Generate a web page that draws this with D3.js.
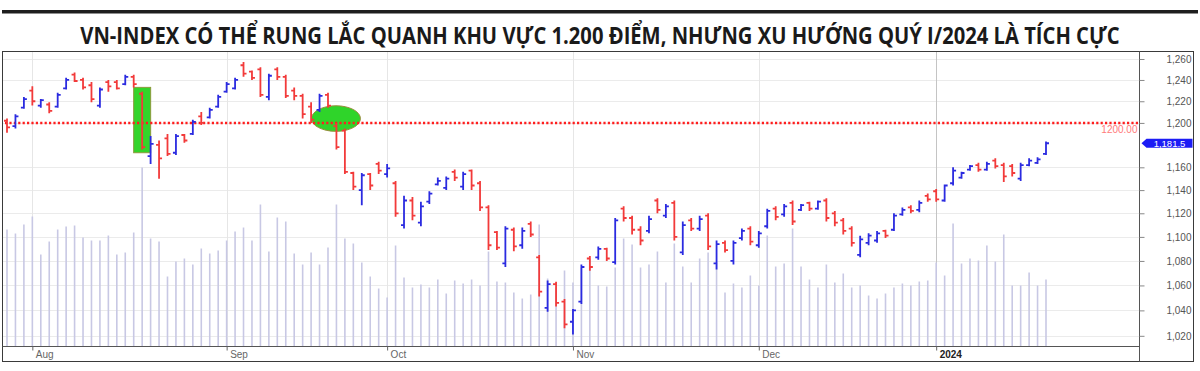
<!DOCTYPE html>
<html>
<head>
<meta charset="utf-8">
<script src="https://cdn.jsdelivr.net/npm/d3@7"></script>
<style>
	body { margin: 0; background: #fff; }
</style>
</head>
<body>
<div id="chart"></div>
<script>
// ------------------------------------------------------
// Size of the page
const width = 1200
const height = 371

// ------------------------------------------------------
// Data: VN-Index daily bars, Jul 27 2023 - Jan 19 2024

const dates = [
	'2023-07-27','2023-07-28','2023-07-31',
	'2023-08-01','2023-08-02','2023-08-03','2023-08-04','2023-08-07','2023-08-08','2023-08-09','2023-08-10',
	'2023-08-11','2023-08-14','2023-08-15','2023-08-16','2023-08-17','2023-08-18','2023-08-21','2023-08-22',
	'2023-08-23','2023-08-24','2023-08-25','2023-08-28','2023-08-29','2023-08-30','2023-08-31',
	'2023-09-05','2023-09-06','2023-09-07','2023-09-08','2023-09-11','2023-09-12','2023-09-13','2023-09-14',
	'2023-09-15','2023-09-18','2023-09-19','2023-09-20','2023-09-21','2023-09-22','2023-09-25','2023-09-26',
	'2023-09-27','2023-09-28','2023-09-29',
	'2023-10-02','2023-10-03','2023-10-04','2023-10-05','2023-10-06','2023-10-09','2023-10-10','2023-10-11',
	'2023-10-12','2023-10-13','2023-10-16','2023-10-17','2023-10-18','2023-10-19','2023-10-20','2023-10-23',
	'2023-10-24','2023-10-25','2023-10-26','2023-10-27','2023-10-30','2023-10-31',
	'2023-11-01','2023-11-02','2023-11-03','2023-11-06','2023-11-07','2023-11-08','2023-11-09','2023-11-10',
	'2023-11-13','2023-11-14','2023-11-15','2023-11-16','2023-11-17','2023-11-20','2023-11-21','2023-11-22',
	'2023-11-23','2023-11-24','2023-11-27','2023-11-28','2023-11-29','2023-11-30',
	'2023-12-01','2023-12-04','2023-12-05','2023-12-06','2023-12-07','2023-12-08','2023-12-11','2023-12-12',
	'2023-12-13','2023-12-14','2023-12-15','2023-12-18','2023-12-19','2023-12-20','2023-12-21','2023-12-22',
	'2023-12-25','2023-12-26','2023-12-27','2023-12-28','2023-12-29',
	'2024-01-02','2024-01-03','2024-01-04','2024-01-05','2024-01-08','2024-01-09','2024-01-10','2024-01-11',
	'2024-01-12','2024-01-15','2024-01-16','2024-01-17','2024-01-18','2024-01-19'
]

const openVals = [
	1202,1197,1214,1230,1216,1217,1215,1232,1245,1240,
	1235,1216,1238,1238,1236,1243,1227,1170,1180,1186,
	1173,1189,1190,1206,1205,1215,1229,1232,1254,1248,
	1250,1224,1250,1243,1230,1225,1215,1212,1226,1197,
	1193,1155,1140,1154,1163,1154,1146,1110,1131,1112,
	1130,1145,1142,1156,1143,1157,1146,1125,1104,1078,
	1106,1093,1111,1083,1042,1061,1047,1031,1047,1082,
	1083,1090,1079,1124,1116,1106,1105,1131,1118,1129,
	1087,1114,1107,1118,1078,1095,1080,1099,1107,1093,
	1109,1124,1119,1129,1123,1129,1124,1131,1120,1114,
	1107,1085,1095,1097,1105,1106,1119,1125,1123,1135,
	1139,1131,1146,1151,1158,1162,1158,1166,1162,1161,
	1150,1162,1164,1172
]

const highVals = [
	1204,1208,1224,1234,1222,1219,1228,1242,1247,1242,
	1238,1233,1240,1240,1245,1245,1229,1188,1184,1190,
	1190,1190,1203,1210,1214,1226,1238,1242,1257,1249,
	1252,1246,1252,1245,1233,1227,1219,1227,1228,1200,
	1195,1156,1155,1155,1165,1163,1148,1135,1134,1130,
	1139,1151,1152,1158,1156,1158,1148,1127,1105,1109,
	1108,1108,1113,1085,1064,1063,1049,1041,1077,1084,
	1092,1091,1116,1126,1118,1109,1118,1133,1128,1131,
	1113,1116,1118,1120,1097,1097,1097,1107,1109,1105,
	1124,1126,1128,1131,1128,1130,1131,1133,1122,1116,
	1109,1101,1103,1105,1106,1120,1125,1127,1131,1137,
	1141,1145,1160,1156,1162,1164,1165,1168,1164,1163,
	1164,1168,1169,1183
]

const lowVals = [
	1191,1195,1213,1216,1214,1209,1214,1231,1238,1231,
	1219,1214,1229,1231,1235,1233,1176,1163,1150,1170,
	1171,1182,1189,1198,1204,1214,1228,1231,1243,1240,
	1224,1221,1240,1223,1221,1204,1200,1210,1214,1176,
	1154,1140,1127,1140,1154,1151,1117,1107,1114,1109,
	1128,1144,1140,1148,1140,1140,1122,1089,1089,1075,
	1088,1090,1100,1051,1039,1043,1026,1021,1045,1072,
	1081,1080,1077,1113,1102,1093,1103,1120,1116,1097,
	1085,1105,1105,1089,1073,1087,1077,1097,1093,1091,
	1107,1114,1117,1110,1122,1122,1123,1113,1109,1102,
	1092,1083,1093,1095,1099,1105,1118,1120,1121,1130,
	1130,1130,1144,1150,1157,1156,1157,1159,1147,1152,
	1148,1161,1163,1171
]

const closeVals = [
	1196,1206,1222,1220,1221,1211,1226,1240,1239,1233,
	1222,1231,1234,1232,1243,1236,1178,1181,1168,1172,
	1188,1184,1201,1200,1212,1224,1236,1240,1246,1242,
	1226,1244,1243,1225,1225,1208,1203,1225,1216,1178,
	1156,1143,1153,1144,1157,1159,1120,1131,1118,1126,
	1137,1148,1150,1151,1154,1144,1125,1093,1091,1107,
	1092,1105,1102,1055,1061,1046,1029,1040,1075,1075,
	1090,1082,1114,1116,1106,1097,1115,1123,1126,1100,
	1110,1107,1115,1092,1094,1089,1095,1105,1096,1103,
	1122,1117,1126,1113,1127,1124,1130,1116,1112,1105,
	1095,1098,1101,1103,1101,1118,1123,1122,1129,1132,
	1132,1144,1157,1155,1161,1158,1163,1161,1152,1155,
	1162,1166,1167,1181.5
]

// volume, millions of shares
const volumes = [
	936,904,976,1040,736,840,936,960,968,872,
	848,848,888,736,752,912,1432,864,840,560,
	680,704,656,784,744,768,848,920,952,848,
	1136,760,1032,1000,744,656,752,656,792,1136,
	864,824,672,560,464,392,808,552,472,496,
	472,536,424,528,504,536,488,760,520,512,
	432,384,416,976,544,472,608,512,632,704,
	488,480,632,864,816,632,656,760,512,824,
	640,512,704,752,672,432,504,472,568,488,
	888,640,664,944,640,536,472,656,512,584,
	472,488,408,384,424,472,504,488,520,528,
	672,568,984,664,704,688,808,680,896,488,
	488,592,488,536
]

const yTickValues = [1020, 1040, 1060, 1080, 1100, 1120, 1140, 1160, 1200, 1220, 1240, 1260]
const monthTickDates = ['2023-08-01', '2023-09-05', '2023-10-02', '2023-11-01', '2023-12-01', '2024-01-02']
const monthTickLabels = ['Aug', 'Sep', 'Oct', 'Nov', 'Dec', '2024']

// marked level and highlighted sessions
const levelValue = 1200
const lastValue = 1181.5
const boxDate = '2023-08-18'
const boxRange = [1173, 1233]
const ellipseDate = '2023-09-22'
const ellipseValue = 1204

const titleText = 'VN-INDEX CÓ THỂ RUNG LẮC QUANH KHU VỰC 1.200 ĐIỂM, NHƯNG XU HƯỚNG QUÝ I/2024 LÀ TÍCH CỰC'

const bars = dates.map((d, i) => ({
	date: d,
	open: openVals[i],
	high: highVals[i],
	low: lowVals[i],
	close: closeVals[i],
	volume: volumes[i]
}))

// ------------------------------------------------------
// Frame of the chart
const frame = { left: 2.5, top: 51.5, right: 1193.5, bottom: 361.5 }
const axisX = 1139.5
const plotBottom = 346.5

const svg = d3.select('#chart')
	.append('svg')
	.attr('width', width)
	.attr('height', height)
	.style('font-family', 'Arial, "Liberation Sans", sans-serif')

// ------------------------------------------------------
// Scales
const x = d3.scalePoint()
	.domain(dates)
	.range([7, 1046])

// price axis is logarithmic
const y = d3.scaleLog()
	.domain([1260, 1020])
	.range([59, 59 + 1310 * Math.log(1260 / 1020)])

const yVol = d3.scaleLinear()
	.domain([0, 2400])
	.range([plotBottom, plotBottom - 300])

// ------------------------------------------------------
// Title and the heavy rule above it
svg.append('rect')
	.attr('x', 2)
	.attr('y', 10)
	.attr('width', 1196)
	.attr('height', 3.5)
	.attr('fill', '#1e1e1e')

// squeeze the title horizontally so it reads like a condensed face
const title = svg.append('text')
	.attr('text-anchor', 'middle')
	.attr('font-family', '"Open Sans", Roboto, sans-serif')
	.attr('font-weight', 700)
	.attr('font-size', 24)
	.attr('fill', '#1a1a1a')
	.text(titleText)

const titleWidth = title.node().getComputedTextLength()
title.attr('transform', `translate(${width / 2},44) scale(${Math.min(1, 1040 / titleWidth)},1)`)

// ------------------------------------------------------
// Grid
const grid = svg.append('g')

grid.selectAll('.hgrid')
	.data(yTickValues)
	.enter()
	.append('line')
	.attr('x1', frame.left)
	.attr('x2', axisX)
	.attr('y1', d => Math.round(y(d)) + 0.5)
	.attr('y2', d => Math.round(y(d)) + 0.5)
	.attr('stroke', '#ebebeb')

grid.selectAll('.vgrid')
	.data(monthTickDates)
	.enter()
	.append('line')
	.attr('x1', d => Math.round(x(d)) + 0.5)
	.attr('x2', d => Math.round(x(d)) + 0.5)
	.attr('y1', frame.top)
	.attr('y2', plotBottom)
	.attr('stroke', (d, i) => i === 5 ? '#c4c4c4' : '#e6e6e6')

// ------------------------------------------------------
// Volume lines
svg.append('g')
	.selectAll('line')
	.data(bars)
	.enter()
	.append('line')
	.attr('x1', d => x(d.date))
	.attr('x2', d => x(d.date))
	.attr('y1', plotBottom)
	.attr('y2', d => yVol(d.volume))
	.attr('stroke', '#c8c8e4')
	.attr('stroke-width', 1.6)

// ------------------------------------------------------
// Green highlights
svg.append('rect')
	.attr('x', x(boxDate) - 8.5)
	.attr('y', y(boxRange[1]))
	.attr('width', 17)
	.attr('height', y(boxRange[0]) - y(boxRange[1]))
	.attr('fill', '#33d42a')
	.attr('stroke', '#8c9a3c')
	.attr('stroke-width', 1)

svg.append('ellipse')
	.attr('cx', x(ellipseDate) - 0.5)
	.attr('cy', y(ellipseValue))
	.attr('rx', 24.5)
	.attr('ry', 12.8)
	.attr('fill', '#2fd42a')
	.attr('stroke', '#9a8c3c')
	.attr('stroke-width', 1)

// ------------------------------------------------------
// 1200 level line
svg.append('line')
	.attr('x1', 5)
	.attr('x2', axisX - 1)
	.attr('y1', y(levelValue))
	.attr('y2', y(levelValue))
	.attr('stroke', '#ff1e1e')
	.attr('stroke-width', 2.5)
	.attr('stroke-dasharray', '2.2 2.2')

svg.append('text')
	.attr('x', axisX - 2)
	.attr('y', y(levelValue) + 10)
	.attr('text-anchor', 'end')
	.attr('font-size', 10)
	.attr('fill', '#ff7a7a')
	.text(d3.format('.2f')(levelValue))

// ------------------------------------------------------
// OHLC bars
svg.append('g')
	.selectAll('path')
	.data(bars)
	.enter()
	.append('path')
	.attr('d', d => {
		const cx = x(d.date)
		return `M${cx},${y(d.high)}V${y(d.low)}`
			+ `M${cx - 3},${y(d.open)}H${cx}`
			+ `M${cx},${y(d.close)}H${cx + 3}`
	})
	.attr('fill', 'none')
	.attr('stroke', d => d.close < d.open ? '#f23a3a' : '#2b2be0')
	.attr('stroke-width', 1.8)

// ------------------------------------------------------
// Frame and axes
svg.append('rect')
	.attr('x', frame.left)
	.attr('y', frame.top)
	.attr('width', frame.right - frame.left)
	.attr('height', frame.bottom - frame.top)
	.attr('fill', 'none')
	.attr('stroke', '#3a3a3a')

svg.append('line')
	.attr('x1', axisX)
	.attr('x2', axisX)
	.attr('y1', frame.top)
	.attr('y2', frame.bottom)
	.attr('stroke', '#555')

svg.append('line')
	.attr('x1', frame.left)
	.attr('x2', axisX)
	.attr('y1', plotBottom)
	.attr('y2', plotBottom)
	.attr('stroke', '#555')

// Right price axis
const yAxis = svg.append('g')
	.attr('transform', `translate(${axisX},0)`)
	.call(d3.axisRight(y)
		.tickValues(yTickValues)
		.tickFormat(d3.format(','))
		.tickSize(5))

yAxis.select('.domain').remove()
yAxis.selectAll('line').attr('stroke', '#888')
yAxis.selectAll('text')
	.attr('x', 52)
	.attr('text-anchor', 'end')
	.attr('font-size', 10)
	.attr('fill', '#555')
	.attr('font-family', 'Arial, "Liberation Sans", sans-serif')

// Month axis
const xAxis = svg.append('g')
	.attr('transform', `translate(0,${plotBottom})`)
	.call(d3.axisBottom(x)
		.tickValues(monthTickDates)
		.tickFormat((d, i) => monthTickLabels[i])
		.tickSize(4))

xAxis.select('.domain').remove()
xAxis.selectAll('line').attr('stroke', '#666')
xAxis.selectAll('text')
	.attr('x', 3)
	.attr('y', 4)
	.attr('text-anchor', 'start')
	.attr('font-size', 10)
	.attr('fill', (d, i) => i === 5 ? '#222' : '#666')
	.attr('font-weight', (d, i) => i === 5 ? 700 : 400)
	.attr('font-family', 'Arial, "Liberation Sans", sans-serif')

// ------------------------------------------------------
// Last price tag
const tagY = y(lastValue)
const tag = svg.append('g')

tag.append('path')
	.attr('d', `M${axisX + 2},${tagY}L${axisX + 7},${tagY - 4.5}H${frame.right - 1}V${tagY + 4.5}H${axisX + 7}Z`)
	.attr('fill', '#1c1cf5')

tag.append('text')
	.attr('x', (axisX + frame.right + 6) / 2)
	.attr('y', tagY + 3.5)
	.attr('text-anchor', 'middle')
	.attr('font-size', 9.5)
	.attr('fill', '#fff')
	.text(d3.format(',.1f')(lastValue))
</script>
</body>
</html>
